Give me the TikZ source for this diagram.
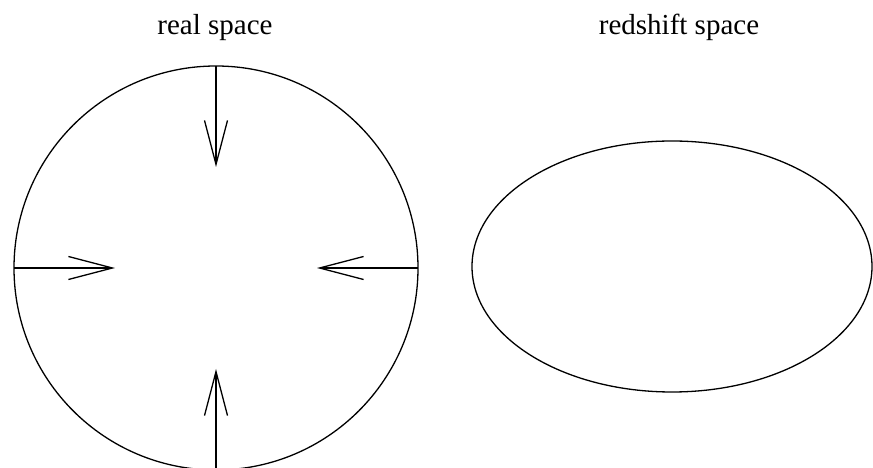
\documentclass[tikz,border=0pt]{standalone}
\usepackage{fontspec}
\setmainfont{Liberation Serif}
\usetikzlibrary{positioning, shapes.geometric, arrows.meta, calc}

\begin{document}
\begin{tikzpicture}[
  x=1pt, y=1pt,
  sphere/.style={draw, line width=1.3pt, inner sep=0pt, outer sep=0pt},
  infall/.style={draw, line width=1.3pt, -{Straight Barb[length=44pt, width=23pt, line width=1.3pt]}},
  title/.style={font=\fontsize{29}{32}\selectfont, anchor=base, inner sep=0pt},
]
  \useasboundingbox (0,0) rectangle (873,468);
  % real space: sphere with infall
  \node[sphere, circle, minimum size=404pt] (real) at (216,200) {};
  \node[title] (realtitle) at (215,433) {real space};
  \foreach \side in {north, south, east, west}
    \draw[infall] (real.\side) -- ($(real.center)!0.5!(real.\side)$);
  % redshift space: squashed
  \node[sphere, ellipse, minimum width=400pt, minimum height=251pt] (redshift) at (672,201.5) {};
  \node[title] (redshifttitle) at (679,433) {redshift space};
\end{tikzpicture}
\end{document}
